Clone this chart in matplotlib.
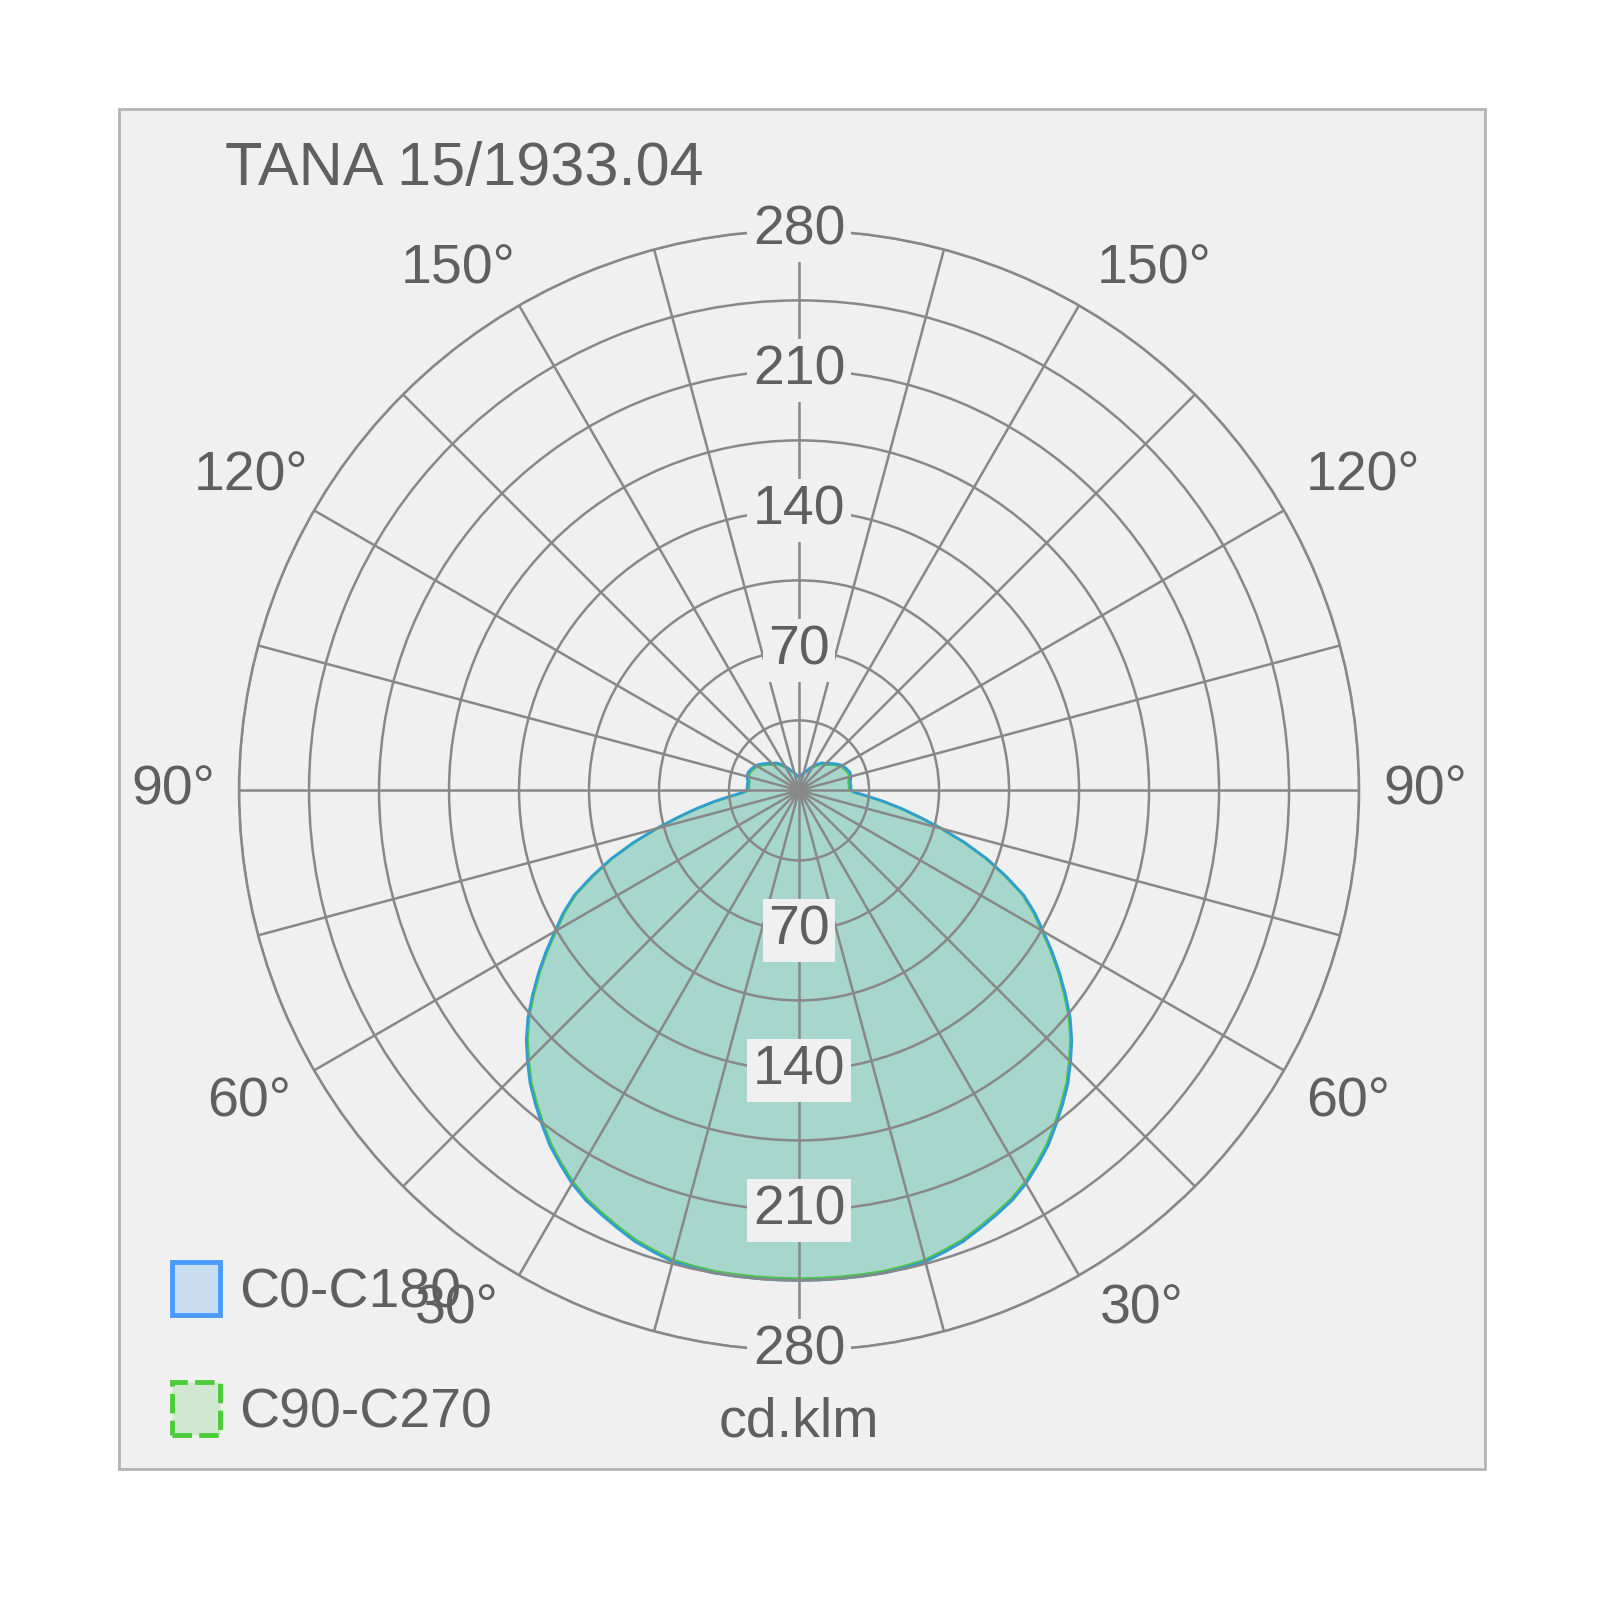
import matplotlib.pyplot as plt
import numpy as np
from matplotlib.patches import Patch, Rectangle

plt.rcParams['font.family'] = ['Liberation Sans', 'DejaVu Sans']

# data (cd/klm against gamma angle from nadir)
title = 'TANA 15/1933.04'
unit = 'cd.klm'
series_names = ['C0-C180', 'C90-C270']

gamma = [0, 2.5, 5, 7.5, 10, 12.5, 15, 17.5, 20, 22.5, 25, 27.5, 30, 32.5, 35, 37.5, 40, 42.5,
         45, 47.5, 50, 52.5, 55, 57.5, 60, 62.5, 65, 67.5, 70, 72.5, 75, 77.5, 80, 82.5, 85, 87.5, 90,
         95, 100, 105, 110, 115, 120, 125, 130, 135, 140, 145, 150, 155, 160, 165, 170, 175, 180]
c0_c180 = [245, 245, 245, 245, 245, 244.5, 244, 242, 240, 237, 234, 231, 227, 222, 217, 211, 205, 199,
           192, 185, 177, 168, 159, 150, 141, 133, 124, 112, 100, 87, 74, 62, 52, 43, 35, 29, 26,
           26, 26, 27, 27, 26, 25, 23, 21, 19, 18, 16, 14, 12, 10, 9, 8, 7, 7]
c90_c270 = [244, 244, 244, 244, 244, 243.5, 243, 241, 239, 236, 233, 230, 226, 221, 216, 210, 204, 198,
            191, 184, 176, 167, 158, 149, 140, 132, 123, 111, 99, 86, 73, 61, 51, 42, 34, 28, 25,
            25, 25, 26, 26, 25, 24, 22, 20, 18, 17, 15, 13, 11, 10, 9, 8, 7, 7]

r_grid = [35, 70, 105, 140, 175, 210, 245, 280]
r_labels = [70, 140, 210, 280]
angle_labels = [30, 60, 90, 120, 150]

txt_col = '#5f5f5f'
grid_col = '#888888'
bg = '#f0f0f0'

fig = plt.figure(figsize=(16, 16), dpi=100)
fig.patch.set_facecolor('white')
fig.add_artist(Rectangle((119 / 1600, 1 - 1469 / 1600), 1366 / 1600, 1360 / 1600,
                         transform=fig.transFigure, facecolor=bg, edgecolor='#b4b4b4',
                         lw=2, zorder=0))

ax = fig.add_axes([0.1494, 0.156, 0.70, 0.70], projection='polar')
ax.patch.set_alpha(0)
ax.set_theta_zero_location('S')
ax.set_ylim(0, 280)
ax.set_thetagrids(np.arange(0, 360, 15), labels=[])
ax.set_rgrids(r_grid, labels=[])
ax.grid(color=grid_col, lw=1.8)
ax.spines['polar'].set_color(grid_col)
ax.spines['polar'].set_linewidth(1.8)
ax.set_axisbelow(False)


def loop(vals):
    g = np.array(gamma, dtype=float)
    v = np.array(vals, dtype=float)
    th = np.radians(np.concatenate([-g[::-1], g[1:]]))
    rr = np.concatenate([v[::-1], v[1:]])
    return th, rr


th, rr = loop(c90_c270)
ax.fill(th, rr, color=(166 / 255, 251 / 255, 106 / 255), alpha=0.35, lw=0, zorder=1)
ax.plot(th, rr, color='#52c34a', lw=1.6, zorder=2)
th, rr = loop(c0_c180)
ax.fill(th, rr, color=(60 / 255, 150 / 255, 230 / 255), alpha=0.3, lw=0, zorder=1)
ax.plot(th, rr, color='#2e9fd0', lw=2.0, zorder=2)

box = dict(boxstyle='square,pad=0.1', facecolor=bg, edgecolor='none')
for r in r_labels:
    ax.text(np.pi, r, str(r), ha='center', va='center', fontsize=40, color=txt_col, bbox=box, zorder=4)
    ax.text(0, r, str(r), ha='center', va='center', fontsize=40, color=txt_col, bbox=box, zorder=4)

# angle labels sit a little off their spokes in the original (left side, right side)
label_pos = {30: ((33.4, 311), (33.4, 311)),
             60: ((60.4, 316), (60.4, 316)),
             90: ((90, 313), (90, 313)),
             120: ((119.8, 316), (119.1, 323)),
             150: ((146.8, 311), (145.7, 315))}
for a in angle_labels:
    left, right = label_pos[a]
    for s, (ang, rad) in ((-1, left), (1, right)):
        ax.text(np.radians(s * ang), rad, f'{a}°', ha='center', va='center',
                fontsize=40, color=txt_col, zorder=6)

ax.text(0, 316, unit, ha='center', va='center', fontsize=40, color=txt_col)
fig.text(464 / 1600, 1 - 170 / 1600, title, ha='center', va='center', fontsize=44, color=txt_col)

handles = [Patch(facecolor='#c9ddf2', edgecolor='#4a9bff', lw=3.5),
           Patch(facecolor='#cfe8cf', edgecolor='#4ccc3a', lw=3.5, linestyle=(0, (4, 1.5)))]
ax.legend(handles, series_names, loc='upper left', bbox_to_anchor=(172 / 1600, 1 - 1262 / 1600),
          bbox_transform=fig.transFigure, frameon=False, fontsize=40, labelcolor=txt_col,
          handlelength=0.86, handleheight=1.1, handletextpad=0.35, labelspacing=1.12,
          borderpad=0, borderaxespad=0)

fig.savefig('out.png', dpi=100)
